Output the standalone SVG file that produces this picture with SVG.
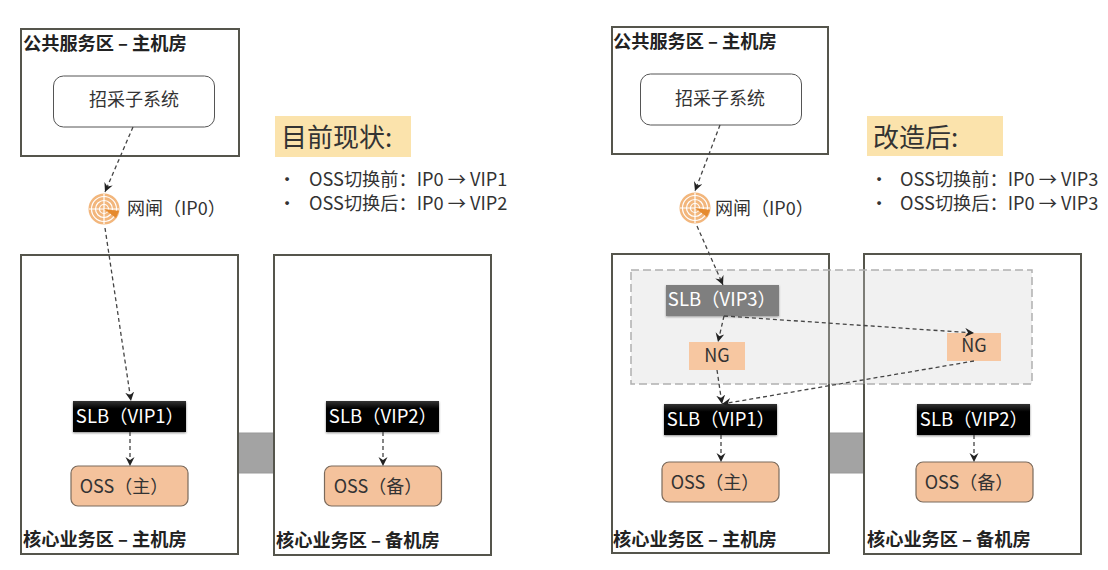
<svg xmlns="http://www.w3.org/2000/svg" width="1108" height="570" viewBox="0 0 1108 570">
<defs>
<marker id="ah" markerWidth="11" markerHeight="11" refX="9" refY="4.500" orient="auto" markerUnits="userSpaceOnUse"><path d="M0,0 L9,4.500 L0,9 L3,4.500 Z" fill="#222"/></marker>
<linearGradient id="blk" x1="0" y1="0" x2="0" y2="1"><stop offset="0" stop-color="#333"/><stop offset=".25" stop-color="#000"/><stop offset="1" stop-color="#000"/></linearGradient>
<g id="gw"><circle r="15.500" fill="#f2b67c"/><g fill="none" stroke="#fff" stroke-width="1.200"><circle r="12.500"/><circle r="8.500"/><circle r="4.500"/><path d="M-15,0H15M0,-15V15"/></g><path d="M0,0L15,2L12,9Z" fill="#e58a2e"/></g>
</defs>
<style>
text{font-family:"Noto Sans CJK SC","Noto Sans",sans-serif;fill:#333}
.room{fill:#fff;stroke:#55554c;stroke-width:2}
.t{font-size:18.200px;font-weight:700;fill:#222}
.b{fill:#fff;stroke:#555;stroke-width:1}
.lbl{font-size:18px;text-anchor:middle}
.slb{fill:url(#blk);filter:drop-shadow(0 1px 1px #888)}
.sl{font-size:18.500px;text-anchor:middle;fill:#fff}
.oss{fill:#f4c29c;stroke:#7a6a5c;stroke-width:1.200}
.head{fill:#fbe3ac}
.h{font-size:26px;fill:#333}
.li{font-size:18.200px}
.ng{fill:#f7c7a1}
.c{fill:none;stroke:#444;stroke-width:1.300;stroke-dasharray:4 3;marker-end:url(#ah)}
</style>
<g id="left-links-bg">
<rect x="238" y="433" width="36" height="40" fill="#a3a3a3" stroke="#999"/>
</g>
<g id="right-links-bg">
<rect x="829" y="433" width="36" height="40" fill="#a3a3a3" stroke="#999"/>
</g>
<g id="L-public"><rect class="room" x="21" y="29" width="218" height="127"/><text class="t" x="23" y="50">公共服务区 – 主机房</text></g>
<g id="L-sub"><rect class="b" x="53.500" y="76" width="161" height="51" rx="10"/><text class="lbl" x="134" y="106">招采子系统</text></g>
<g id="L-gateway"><use href="#gw" x="104" y="209"/><text x="127" y="215" font-size="18">网闸（IP0）</text></g>
<g id="L-core"><rect class="room" x="21" y="255" width="217" height="299"/><text class="t" x="23" y="546">核心业务区 – 主机房</text></g>
<g id="L-backup"><rect class="room" x="274" y="255" width="217" height="300"/><text class="t" x="276" y="547">核心业务区 – 备机房</text></g>
<g id="L-slb1"><rect class="slb" x="73" y="401" width="113" height="31"/><text class="sl" x="130" y="423">SLB（VIP1）</text></g>
<g id="L-slb2"><rect class="slb" x="326" y="401" width="113" height="31"/><text class="sl" x="383" y="423">SLB（VIP2）</text></g>
<g id="L-oss1"><rect class="oss" x="71" y="466" width="117" height="40" rx="7"/><text class="lbl" x="124" y="493">OSS（主）</text></g>
<g id="L-oss2"><rect class="oss" x="324.500" y="466" width="117" height="40" rx="7"/><text class="lbl" x="378" y="493">OSS（备）</text></g>
<g id="L-head"><rect class="head" x="275" y="116" width="136" height="41"/><text class="h" x="281" y="147">目前现状:</text></g>
<g id="L-notes"><text class="li" x="278" y="186">•</text><text class="li" x="309" y="186">OSS切换前：IP0 → VIP1</text><text class="li" x="278" y="210">•</text><text class="li" x="309" y="210">OSS切换后：IP0 → VIP2</text></g>

<g id="R-public"><rect class="room" x="612" y="27" width="216" height="127"/><text class="t" x="613" y="48">公共服务区 – 主机房</text></g>
<g id="R-sub"><rect class="b" x="640.500" y="74" width="161" height="51" rx="10"/><text class="lbl" x="720" y="105">招采子系统</text></g>
<g id="R-gateway"><use href="#gw" x="695" y="208"/><text x="715" y="215" font-size="18">网闸（IP0）</text></g>
<g id="R-core"><rect class="room" x="612" y="254" width="217" height="299"/><text class="t" x="613" y="546">核心业务区 – 主机房</text></g>
<g id="R-backup"><rect class="room" x="864" y="254" width="217" height="300"/><text class="t" x="867" y="546">核心业务区 – 备机房</text></g>
<g id="R-zone"><rect x="631" y="270" width="401" height="114" fill="#d4d4d4" fill-opacity=".32" stroke="#b0b0b0" stroke-width="1.500" stroke-dasharray="8 4"/></g>
<g id="R-slb3"><rect x="666" y="285" width="113" height="31" fill="#7f7f7f" style="filter:drop-shadow(0 1px 1px #999)"/><text class="sl" x="722" y="306">SLB（VIP3）</text></g>
<g id="R-ng1"><rect class="ng" x="689" y="342" width="56" height="28"/><text class="lbl" x="717" y="362">NG</text></g>
<g id="R-ng2"><rect class="ng" x="947" y="333" width="54" height="28"/><text class="lbl" x="974" y="352">NG</text></g>
<g id="R-slb1"><rect class="slb" x="664" y="404" width="113" height="31"/><text class="sl" x="721" y="426">SLB（VIP1）</text></g>
<g id="R-slb2"><rect class="slb" x="917" y="404" width="113" height="31"/><text class="sl" x="974" y="426">SLB（VIP2）</text></g>
<g id="R-oss1"><rect class="oss" x="662" y="462" width="117" height="40" rx="7"/><text class="lbl" x="715" y="489">OSS（主）</text></g>
<g id="R-oss2"><rect class="oss" x="916" y="462" width="117" height="40" rx="7"/><text class="lbl" x="969" y="489">OSS（备）</text></g>
<g id="R-head"><rect class="head" x="867" y="116" width="136" height="40"/><text class="h" x="873" y="147">改造后:</text></g>
<g id="R-notes"><text class="li" x="870" y="186">•</text><text class="li" x="900" y="186">OSS切换前：IP0 → VIP3</text><text class="li" x="870" y="210">•</text><text class="li" x="900" y="210">OSS切换后：IP0 → VIP3</text></g>

<g id="connectors">
<path class="c" d="M133,127L105,192"/>
<path class="c" d="M105,228L131,401"/>
<path class="c" d="M130,432L130,466"/>
<path class="c" d="M383,432L383,466"/>
<path class="c" d="M720,125L695,191"/>
<path class="c" d="M697,226L723,285"/>
<path class="c" d="M724,316L718,342"/>
<path class="c" d="M724,316L974,333"/>
<path class="c" d="M717,370L722,404"/>
<path class="c" d="M974,361L722,404"/>
<path class="c" d="M721,435L721,462"/>
<path class="c" d="M974,435L974,462"/>
</g>
</svg>
